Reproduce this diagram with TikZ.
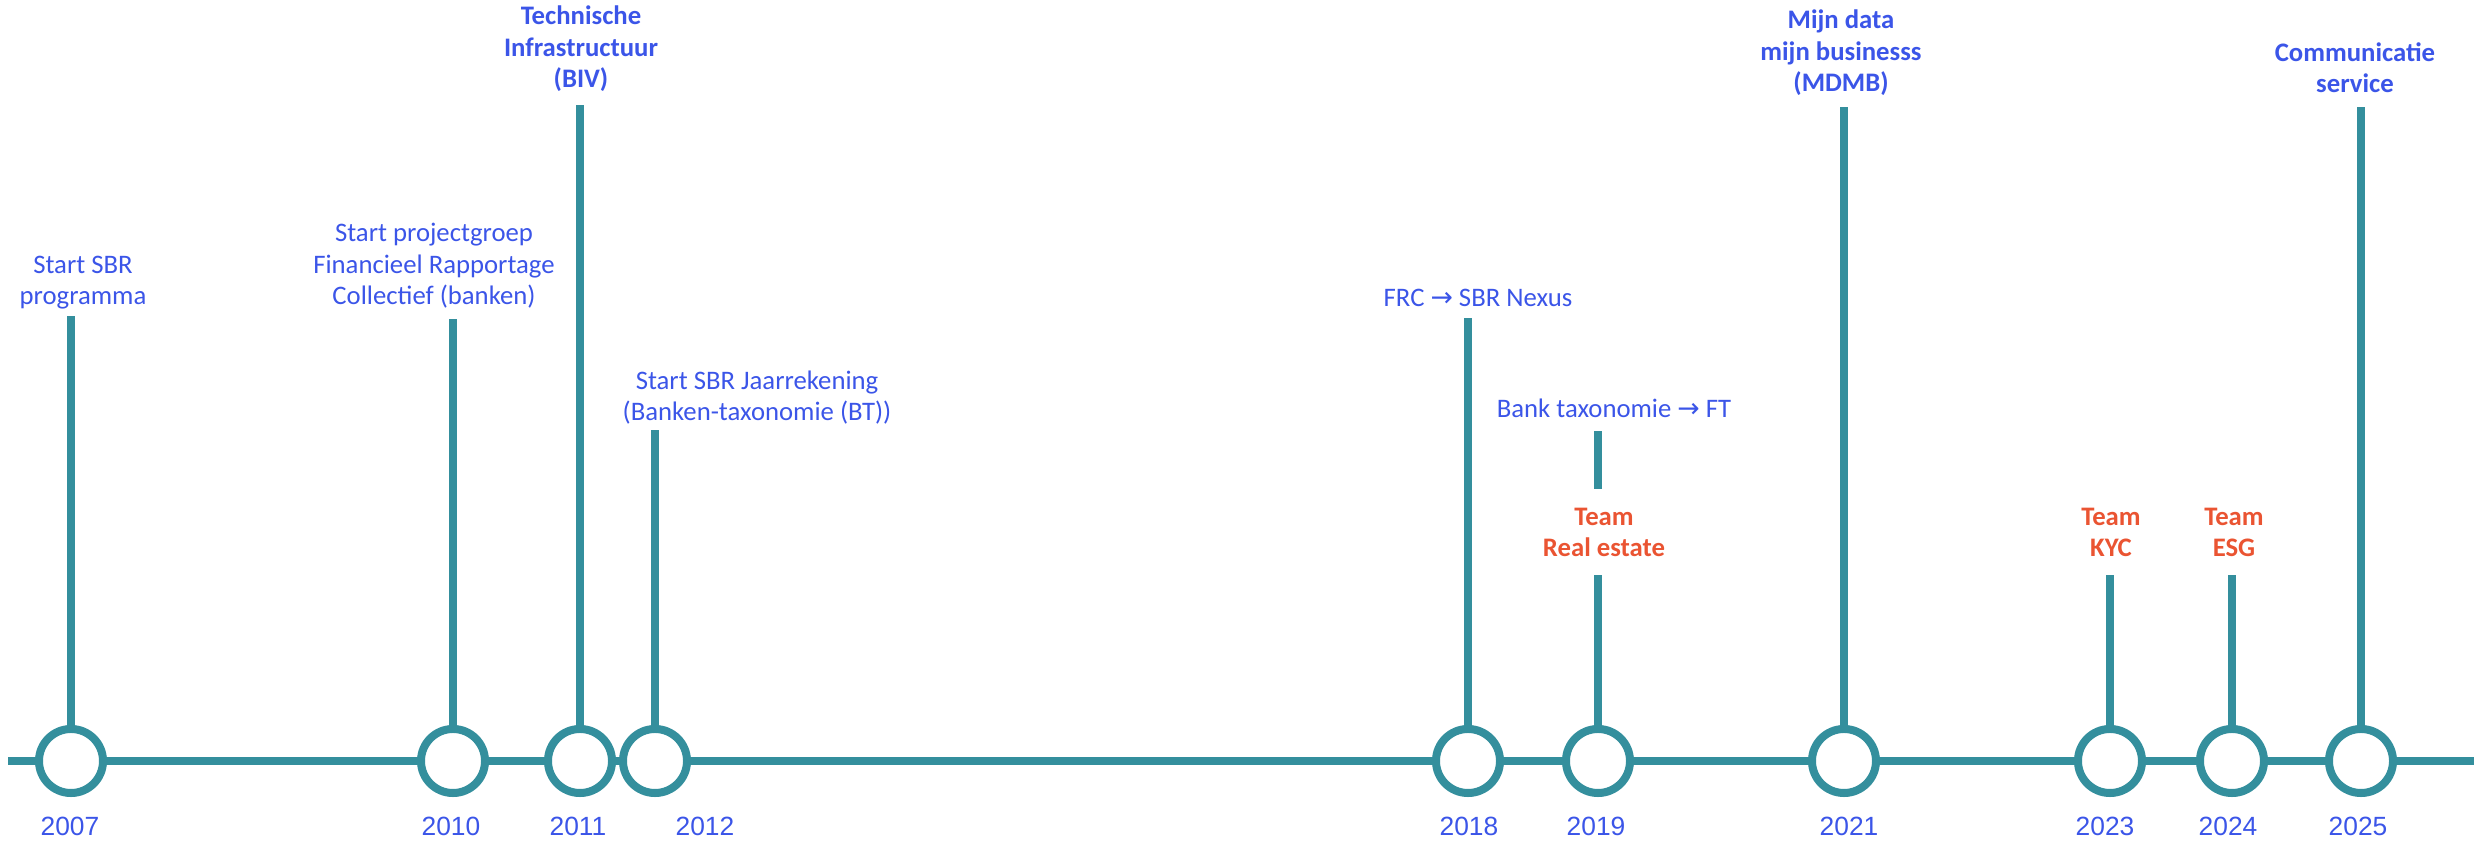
\documentclass[tikz,border=0pt]{standalone}
\usepackage{fontspec}
\setmainfont{Carlito}
\newfontfamily\yearfont{Liberation Sans}
\newfontfamily\arrowfont{DejaVu Sans}
\definecolor{tlteal}{RGB}{52,143,157}
\definecolor{tlblue}{RGB}{59,85,232}
\definecolor{tlorange}{RGB}{234,84,50}
\newcommand{\rarr}{{\arrowfont\char"2192}}

\begin{document}
\begin{tikzpicture}[x=0.01cm,y=-0.01cm]
	\tikzstyle{yearring}=[circle,draw=tlteal,fill=white,line width=0.08cm,minimum size=0.64cm,inner sep=0pt]
	\tikzstyle{stem}=[draw=tlteal,line width=0.08cm]
	\tikzstyle{yeartext}=[anchor=base,inner sep=0pt,text=tlblue,font=\yearfont\fontsize{7.5}{9}\selectfont]
	\tikzstyle{event}=[align=center,anchor=base,inner sep=0pt,text=tlblue,font=\fontsize{7.6}{9}\selectfont]
	\tikzstyle{milestone}=[event,font=\fontsize{7.6}{9}\selectfont\bfseries]
	\tikzstyle{team}=[milestone,text=tlorange]
	\useasboundingbox (0,0) rectangle (2474,843);
	% years on the line
	\node[yearring] (t_2007) at (71,761) {};
	\node[yearring] (t_2010) at (453,761) {};
	\node[yearring] (t_2011) at (580,761) {};
	\node[yearring] (t_2012) at (655,761) {};
	\node[yearring] (t_2018) at (1468,761) {};
	\node[yearring] (t_2019) at (1598,761) {};
	\node[yearring] (t_2021) at (1844,761) {};
	\node[yearring] (t_2023) at (2110,761) {};
	\node[yearring] (t_2024) at (2232,761) {};
	\node[yearring] (t_2025) at (2361,761) {};
	\coordinate (a_start) at (8,761);
	\coordinate (a_end) at (2474,761);
	\draw[stem] (a_start) -- (t_2007) -- (t_2010) -- (t_2011) -- (t_2012) -- (t_2018) -- (t_2019) -- (t_2021) -- (t_2023) -- (t_2024) -- (t_2025) -- (a_end);
	\node[yeartext] (y_2007) at (70,836) {2007};
	\node[yeartext] (y_2010) at (451,836) {2010};
	\node[yeartext] (y_2011) at (578,836) {2011};
	\node[yeartext] (y_2012) at (705,836) {2012};
	\node[yeartext] (y_2018) at (1469,836) {2018};
	\node[yeartext] (y_2019) at (1596,836) {2019};
	\node[yeartext] (y_2021) at (1849,836) {2021};
	\node[yeartext] (y_2023) at (2105,836) {2023};
	\node[yeartext] (y_2024) at (2228,836) {2024};
	\node[yeartext] (y_2025) at (2358,836) {2025};
	% stems
	\coordinate (s_2007) at (71,316);
	\coordinate (s_2010) at (453,319);
	\coordinate (s_2011) at (580,105);
	\coordinate (s_2012) at (655,430);
	\coordinate (s_2018) at (1468,318);
	\coordinate (s_2019) at (1598,575);
	\coordinate (u_2019) at (1598,489);
	\coordinate (v_2019) at (1598,431);
	\coordinate (s_2021) at (1844,107);
	\coordinate (s_2023) at (2110,575);
	\coordinate (s_2024) at (2232,575);
	\coordinate (s_2025) at (2361,107);
	\draw[stem] (t_2007) -- (s_2007) (t_2010) -- (s_2010) (t_2011) -- (s_2011) (t_2012) -- (s_2012);
	\draw[stem] (t_2018) -- (s_2018) (t_2019) -- (s_2019) (u_2019) -- (v_2019) (t_2021) -- (s_2021);
	\draw[stem] (t_2023) -- (s_2023) (t_2024) -- (s_2024) (t_2025) -- (s_2025);
	% labels (anchored at the baseline of their last line)
	\node[event] (l_2007) at (83,305) {Start SBR\\programma};
	\node[event] (l_2010) at (434,305) {Start projectgroep\\Financieel Rapportage\\Collectief (banken)};
	\node[milestone] (l_2011) at (581,88) {Technische\\Infrastructuur\\(BIV)};
	\node[event] (l_2012) at (757,421) {Start SBR Jaarrekening\\(Banken-taxonomie (BT))};
	\node[event] (l_2018) at (1478,307) {FRC \rarr{} SBR Nexus};
	\node[event] (l_2019) at (1614,418) {Bank taxonomie \rarr{} FT};
	\node[team] (r_2019) at (1604,557) {Team\\Real estate};
	\node[milestone] (l_2021) at (1841,92) {Mijn data\\mijn businesss\\(MDMB)};
	\node[team] (l_2023) at (2111,557) {Team\\KYC};
	\node[team] (l_2024) at (2234,557) {Team\\ESG};
	\node[milestone] (l_2025) at (2355,93) {Communicatie\\service};
\end{tikzpicture}
\end{document}
